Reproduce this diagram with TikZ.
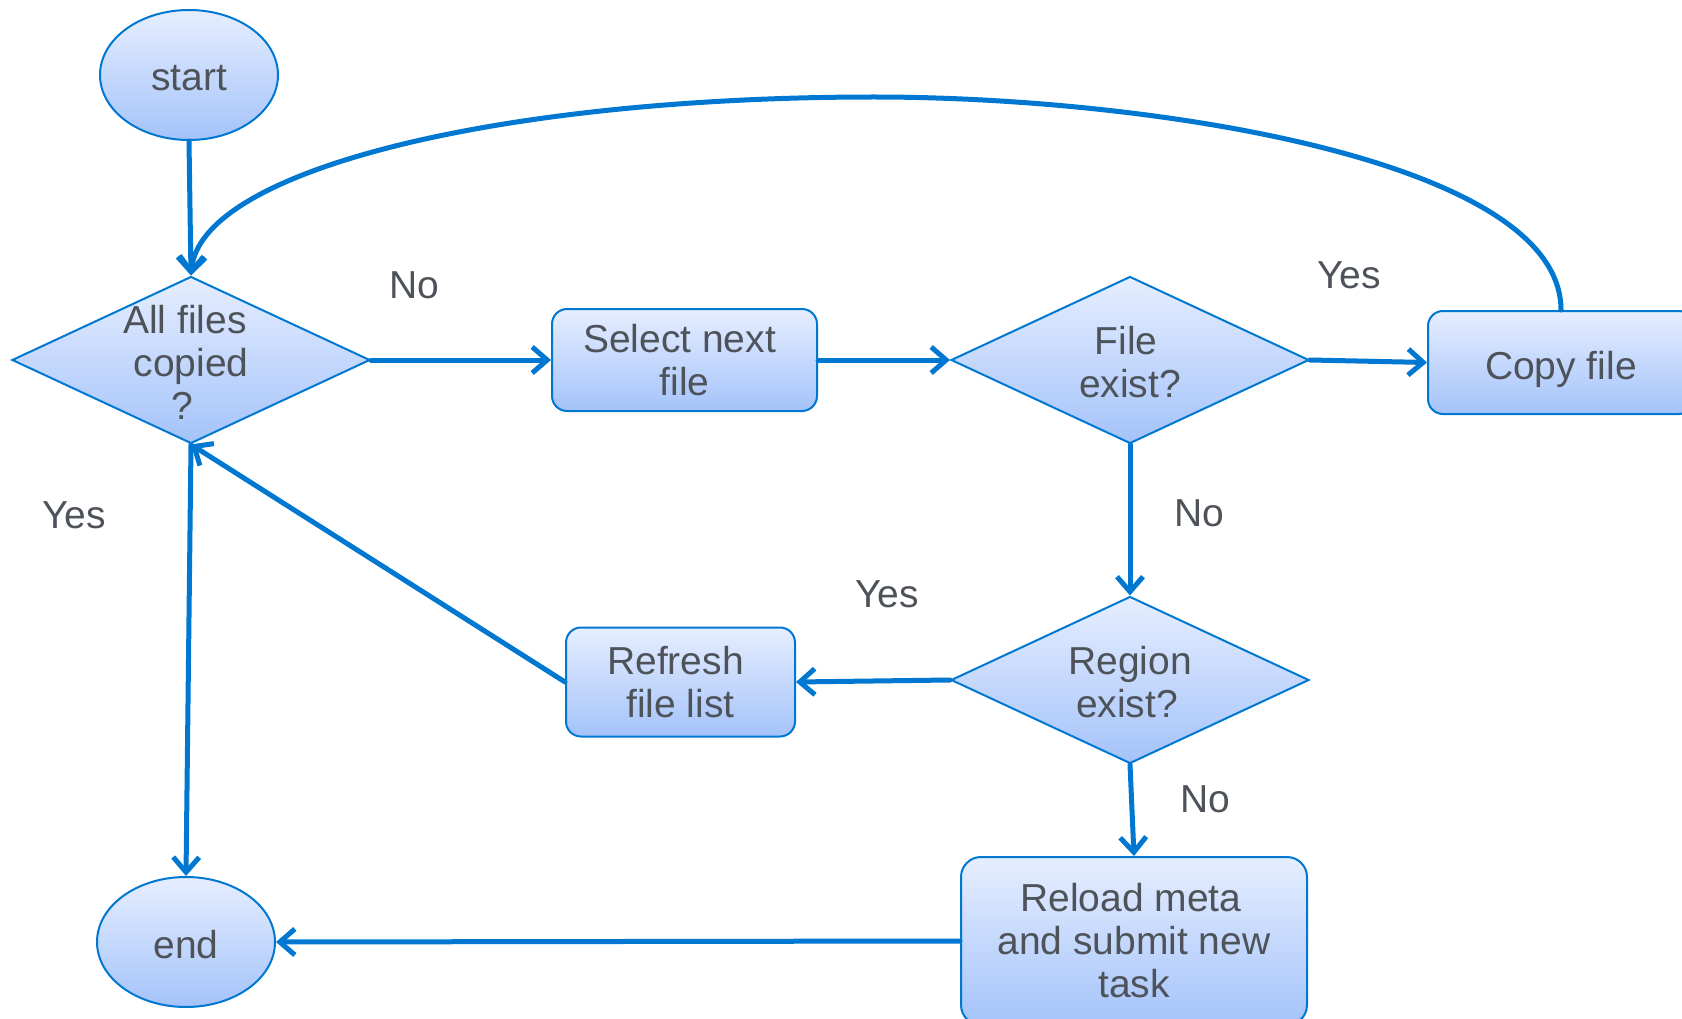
\documentclass[tikz,border=0pt]{standalone}
\usepackage{fontspec}
\setmainfont{Liberation Sans}
\usetikzlibrary{shapes.geometric,arrows.meta}
\definecolor{edge}{RGB}{0,120,210}
\definecolor{fillTop}{RGB}{230,238,255}
\definecolor{fillBot}{RGB}{164,195,250}
\definecolor{ink}{RGB}{78,83,90}

\begin{document}
\begin{tikzpicture}[x=1pt,y=-1pt,
  every node/.style={font=\fontsize{39}{43}\selectfont, text=ink},
  shapebase/.style={draw=edge, line width=2pt, top color=fillTop, bottom color=fillBot, inner sep=0pt},
  terminal/.style={shapebase, ellipse, minimum width=178pt, minimum height=130pt,
    text height=32pt, text depth=0pt},
  decision/.style={shapebase, diamond, minimum width=358pt, minimum height=167pt},
  process/.style={shapebase, rounded corners=15pt, align=center},
  caption/.style={align=center, inner sep=0pt},
  flow/.style={draw=edge, line width=5pt, line cap=round, line join=round,
    -{Straight Barb[length=15pt,width=26pt]}}
]
\useasboundingbox (0,0) rectangle (1682,1019);

% terminals
\node[terminal] (start) at (189,75) {start};
\node[terminal] (end) at (186,942) {end};

% decisions
\node[decision] (d1) at (191,360) {};
\node[caption] (d1t) at ([yshift=-2pt]d1) {All files\hspace*{12pt}\\copied\\?\hspace*{18pt}};
\node[decision] (d2) at (1130,360) {};
\node[caption] (d2t) at ([yshift=-2pt]d2) {File\hspace*{8pt}\\exist?};
\node[decision] (d3) at (1130,680) {};
\node[caption] (d3t) at ([yshift=-2pt]d3) {Region\\exist?\hspace*{6pt}};

% processes
\node[process, minimum width=265pt, minimum height=102pt] (sel) at (684.5,360) {Select next\hspace*{10pt}\\file};
\node[process, minimum width=266pt, minimum height=103pt, text height=34pt, text depth=0pt] (copy) at (1561,362.5) {Copy file};
\node[process, minimum width=229pt, minimum height=109pt] (refresh) at (680.5,682) {Refresh\hspace*{10pt}\\file list};
\node[process, rounded corners=20pt, minimum width=346pt, minimum height=168pt] (reload) at (1134,941) {Reload meta\hspace*{6pt}\\and submit new\\task};

% branch answers
\node (l1) at (414,285) {No};
\node (l2) at (1349,275) {Yes};
\node (l3) at (1199,513) {No};
\node (l4) at (887,594) {Yes};
\node (l5) at (74,515) {Yes};
\node (l6) at (1205,799) {No};

% connectors
\coordinate (peak) at (874,97);
\draw[flow] (start.south) -- (d1.north);
\draw[flow] (d1.east) -- (sel.west);
\draw[flow] (sel.east) -- (d2.west);
\draw[flow] (d2.east) -- (copy.west);
\draw[flow] (copy.north) .. controls (1561,160) and (1150,97) .. (peak)
  .. controls (500,97) and (200,170) .. (d1.north);
\draw[flow] (d2.south) -- (d3.north);
\draw[flow] (d3.west) -- (refresh.east);
\draw[flow] (refresh.west) -- (d1.south);
\draw[flow] (d1.south) -- (end.north);
\draw[flow] (d3.south) -- (reload.north);
\draw[flow] (reload.west) -- (end.east);
\end{tikzpicture}
\end{document}
